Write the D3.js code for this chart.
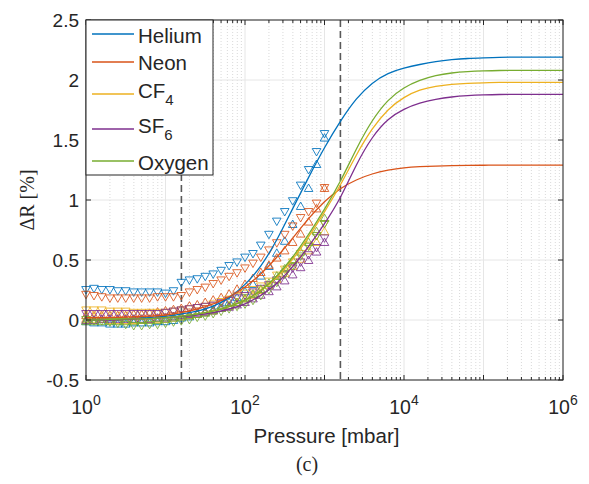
<!DOCTYPE html>
<html>
<head>
<meta charset="utf-8">
<script src="https://cdn.jsdelivr.net/npm/d3@7"></script>
<style>
  body { margin: 0; background: #fff; }
  svg text { font-family: "Liberation Sans", Arial, sans-serif; fill: #262626; }
</style>
</head>
<body>
<div id="chart"></div>
<script>
// Gas names and colours (MATLAB default order)
const gases = ["Helium", "Neon", "CF4", "SF6", "Oxygen"];
const gasColors = ["#0072BD", "#D95319", "#EDB120", "#7E2F8E", "#77AC30"];

// Measured pressures (mbar) for the markers
const measPressure = [1, 1.26, 1.58, 2, 2.51, 3.16, 3.98, 5.01, 6.31, 7.94,
  10, 12.6, 15.8, 20, 25.1, 31.6, 39.8, 50.1, 63.1, 79.4,
  100, 126, 158, 200, 251, 316, 398, 501, 631, 794, 1000];

// Down-triangle branch
const heDown = [0.25,0.26,0.25,0.25,0.24,0.24,0.23,0.23,0.23,0.23,0.22,0.24,0.31,0.33,0.34,0.36,0.38,0.41,0.45,0.48,0.52,0.55,0.62,0.71,0.82,0.9,0.99,1.12,1.25,1.4,1.55];
const neDown = [0.21,0.2,0.19,0.18,0.18,0.18,0.18,0.18,0.18,0.19,0.19,0.19,0.2,0.23,0.25,0.27,0.3,0.33,0.36,0.39,0.43,0.47,0.52,0.58,0.64,0.71,0.78,0.85,0.9,0.97,1.1];
const cfDown = [0.08,0.08,0.08,0.07,0.07,0.07,0.06,0.06,0.06,0.06,0.06,0.07,0.08,0.09,0.1,0.11,0.13,0.15,0.17,0.19,0.22,0.25,0.28,0.32,0.37,0.42,0.48,0.55,0.62,0.7,0.8];
const sfDown = [0.05,0.05,0.05,0.05,0.05,0.05,0.05,0.05,0.05,0.05,0.06,0.07,0.08,0.09,0.1,0.11,0.12,0.14,0.16,0.18,0.2,0.23,0.26,0.29,0.33,0.38,0.43,0.48,0.54,0.6,0.68];
const oxDown = [0,-0.01,-0.01,-0.02,-0.03,-0.04,-0.05,-0.05,-0.04,-0.04,-0.03,-0.02,-0.01,0,0.02,0.03,0.05,0.07,0.09,0.11,0.13,0.16,0.2,0.25,0.31,0.38,0.45,0.53,0.61,0.7,0.8];

// Up-triangle branch
const heUp = [-0.01,-0.02,-0.02,-0.03,-0.03,-0.03,-0.02,-0.02,-0.02,-0.01,-0.01,0,0.02,0.03,0.05,0.07,0.09,0.12,0.15,0.19,0.24,0.3,0.37,0.45,0.56,0.66,0.8,0.95,1.1,1.3,1.52];
const neUp = [0.04,0.04,0.04,0.04,0.04,0.04,0.05,0.05,0.06,0.07,0.08,0.09,0.1,0.12,0.13,0.15,0.17,0.19,0.22,0.26,0.3,0.35,0.4,0.46,0.52,0.58,0.65,0.72,0.82,0.93,1.1];
const cfUp = [0.01,0.01,0.01,0,0,0,0,0,0.01,0.01,0.01,0.02,0.03,0.04,0.05,0.07,0.08,0.1,0.12,0.15,0.18,0.21,0.25,0.29,0.34,0.39,0.45,0.51,0.58,0.65,0.74];
const sfUp = [0,0,0.01,0.01,0.01,0.01,0.01,0.01,0.01,0.02,0.02,0.03,0.04,0.05,0.06,0.07,0.08,0.1,0.11,0.13,0.15,0.18,0.21,0.24,0.28,0.33,0.38,0.44,0.5,0.57,0.65];
const oxUp = [-0.01,-0.01,-0.01,-0.01,-0.01,-0.01,-0.01,0,0,0,0.01,0.02,0.03,0.04,0.05,0.06,0.08,0.1,0.12,0.15,0.18,0.22,0.26,0.31,0.37,0.43,0.5,0.57,0.65,0.74,0.85];

// Fit curves, read at these pressures
const fitPressure = [1, 1.58, 2.51, 3.98, 6.31, 10, 15.8, 25.1, 39.8, 63.1,
  100, 158, 251, 398, 631, 1000, 1585, 2512, 3981, 6310,
  1e4, 1.58e4, 2.51e4, 3.98e4, 6.31e4, 1e5, 1.58e5, 2.51e5, 3.98e5, 6.31e5, 1e6];
const heFit = [0,0,0.01,0.01,0.02,0.03,0.05,0.07,0.11,0.18,0.29,0.44,0.66,0.93,1.19,1.44,1.66,1.85,1.98,2.06,2.1,2.13,2.155,2.17,2.18,2.185,2.19,2.19,2.19,2.19,2.19];
const neFit = [0.02,0.02,0.02,0.03,0.03,0.04,0.06,0.09,0.13,0.19,0.27,0.38,0.52,0.68,0.85,0.99,1.1,1.17,1.22,1.25,1.27,1.278,1.283,1.286,1.288,1.29,1.29,1.29,1.29,1.29,1.29];
const cfFit = [0,0,0.01,0.01,0.01,0.02,0.03,0.05,0.07,0.11,0.16,0.24,0.35,0.5,0.69,0.9,1.12,1.38,1.6,1.76,1.86,1.92,1.95,1.965,1.973,1.977,1.98,1.98,1.98,1.98,1.98];
const sfFit = [0,0,0,0.01,0.01,0.02,0.03,0.04,0.06,0.09,0.13,0.2,0.3,0.44,0.61,0.8,1.01,1.3,1.53,1.68,1.76,1.81,1.84,1.86,1.87,1.876,1.88,1.88,1.88,1.88,1.88];
const oxFit = [0,0,0.01,0.01,0.01,0.02,0.03,0.05,0.07,0.11,0.16,0.24,0.36,0.52,0.71,0.92,1.15,1.43,1.67,1.84,1.94,2,2.04,2.06,2.07,2.076,2.08,2.08,2.08,2.08,2.08];

// Dashed reference pressures
const refPressure = [15.85, 1585];

const yTicks = [-0.5, 0, 0.5, 1, 1.5, 2, 2.5];
const xDecades = [1, 1e1, 1e2, 1e3, 1e4, 1e5, 1e6];
const xLabelDecades = [1, 1e2, 1e4, 1e6];

const downSets = [heDown, neDown, cfDown, sfDown, oxDown];
const upSets = [heUp, neUp, cfUp, sfUp, oxUp];
const fitSets = [heFit, neFit, cfFit, sfFit, oxFit];

// Layout
const W = 589, H = 484;
const plot = { left: 86, right: 563, top: 20, bottom: 380 };

const svg = d3.select("#chart").append("svg")
    .attr("width", W).attr("height", H);

const x = d3.scaleLog().domain([1, 1e6]).range([plot.left, plot.right]);
const y = d3.scaleLinear().domain([-0.5, 2.5]).range([plot.bottom, plot.top]);

// Minor ticks 2..9 in every decade
const minorX = [];
xDecades.slice(0, -1).forEach(d => {
  [2, 3, 4, 5, 6, 7, 8, 9].forEach(m => minorX.push(d * m));
});

// Grid
const grid = svg.append("g");
grid.selectAll(".minor").data(minorX).join("line")
    .attr("x1", d => x(d)).attr("x2", d => x(d))
    .attr("y1", plot.top).attr("y2", plot.bottom)
    .attr("stroke", "#cfcfcf").attr("stroke-width", 0.8)
    .attr("stroke-dasharray", "1,2");
grid.selectAll(".vmajor").data(xDecades).join("line")
    .attr("x1", d => x(d)).attr("x2", d => x(d))
    .attr("y1", plot.top).attr("y2", plot.bottom)
    .attr("stroke", "#e6e6e6").attr("stroke-width", 1);
grid.selectAll(".hmajor").data(yTicks).join("line")
    .attr("x1", plot.left).attr("x2", plot.right)
    .attr("y1", d => y(d)).attr("y2", d => y(d))
    .attr("stroke", "#e6e6e6").attr("stroke-width", 1);

// Dashed reference lines
svg.append("g").selectAll("line").data(refPressure).join("line")
    .attr("x1", d => x(d)).attr("x2", d => x(d))
    .attr("y1", plot.top).attr("y2", plot.bottom)
    .attr("stroke", "#595959").attr("stroke-width", 1.6)
    .attr("stroke-dasharray", "7,4");

// Markers
const tri = d3.symbol().type(d3.symbolTriangle).size(32);
const markers = svg.append("g").attr("fill", "none").attr("stroke-width", 1);
gases.forEach((g, i) => {
  const col = gasColors[i];
  markers.append("g").selectAll("path").data(downSets[i]).join("path")
      .attr("d", tri)
      .attr("transform", (v, j) => `translate(${x(measPressure[j])},${y(v) - 1}) rotate(180)`)
      .attr("stroke", col).attr("stroke-opacity", 0.85);
  markers.append("g").selectAll("path").data(upSets[i]).join("path")
      .attr("d", tri)
      .attr("transform", (v, j) => `translate(${x(measPressure[j])},${y(v) + 1})`)
      .attr("stroke", col).attr("stroke-opacity", 0.85);
});

// Fit curves
const line = d3.line()
    .x((v, j) => x(fitPressure[j]))
    .y(v => y(v))
    .curve(d3.curveBasis);
svg.append("g").selectAll("path").data(fitSets).join("path")
    .attr("d", line)
    .attr("fill", "none")
    .attr("stroke", (d, i) => gasColors[i])
    .attr("stroke-width", 1.3);

// Axes box and ticks (MATLAB style: inside, all four sides)
const axes = svg.append("g").attr("stroke", "#262626").attr("stroke-width", 1);
axes.append("rect")
    .attr("x", plot.left).attr("y", plot.top)
    .attr("width", plot.right - plot.left).attr("height", plot.bottom - plot.top)
    .attr("fill", "none");
yTicks.forEach(t => {
  axes.append("line").attr("x1", plot.left).attr("x2", plot.left + 5).attr("y1", y(t)).attr("y2", y(t));
  axes.append("line").attr("x1", plot.right).attr("x2", plot.right - 5).attr("y1", y(t)).attr("y2", y(t));
});
xDecades.forEach(t => {
  axes.append("line").attr("x1", x(t)).attr("x2", x(t)).attr("y1", plot.bottom).attr("y2", plot.bottom - 5);
  axes.append("line").attr("x1", x(t)).attr("x2", x(t)).attr("y1", plot.top).attr("y2", plot.top + 5);
});
minorX.forEach(t => {
  axes.append("line").attr("x1", x(t)).attr("x2", x(t)).attr("y1", plot.bottom).attr("y2", plot.bottom - 3);
  axes.append("line").attr("x1", x(t)).attr("x2", x(t)).attr("y1", plot.top).attr("y2", plot.top + 3);
});

// Y tick labels
svg.append("g").selectAll("text").data(yTicks).join("text")
    .attr("x", plot.left - 7).attr("y", d => y(d) + 7)
    .attr("text-anchor", "end")
    .style("font-size", "19px")
    .text(d => d);

// X tick labels 10^n
const xl = svg.append("g").selectAll("text").data(xLabelDecades).join("text")
    .attr("x", d => x(d)).attr("y", 414)
    .attr("text-anchor", "middle")
    .style("font-size", "19.5px");
xl.append("tspan").text("10");
xl.append("tspan").attr("dy", -9).style("font-size", "14px")
    .text(d => Math.round(Math.log10(d)));

// Axis labels
svg.append("text")
    .attr("x", (plot.left + plot.right) / 2 + 2).attr("y", 443)
    .attr("text-anchor", "middle")
    .style("font-size", "20.5px")
    .text("Pressure [mbar]");

svg.append("text")
    .attr("transform", `translate(34,${(plot.top + plot.bottom) / 2}) rotate(-90)`)
    .attr("text-anchor", "middle")
    .style("font-family", "'Liberation Serif', 'DejaVu Serif', serif")
    .style("font-size", "20px")
    .text("ΔR [%]");

svg.append("text")
    .attr("x", 307).attr("y", 471)
    .attr("text-anchor", "middle")
    .style("font-family", "'Liberation Serif', 'DejaVu Serif', serif")
    .style("font-size", "20px")
    .text("(c)");

// Legend
const legendLabels = [["Helium", ""], ["Neon", ""], ["CF", "4"], ["SF", "6"], ["Oxygen", ""]];
const legendLineY = [34, 62, 94, 129, 161];
const legendTextY = [43, 70, 98, 133, 170];
const legend = svg.append("g");
legend.append("rect")
    .attr("x", plot.left).attr("y", plot.top)
    .attr("width", 127).attr("height", 155)
    .attr("fill", "#fff").attr("stroke", "#262626").attr("stroke-width", 1);
legendLabels.forEach((lab, i) => {
  legend.append("line")
      .attr("x1", 92).attr("x2", 134)
      .attr("y1", legendLineY[i]).attr("y2", legendLineY[i])
      .attr("stroke", gasColors[i]).attr("stroke-width", 1.3);
  const t = legend.append("text")
      .attr("x", 138).attr("y", legendTextY[i])
      .style("font-size", "20.5px");
  t.append("tspan").text(lab[0]);
  if (lab[1]) t.append("tspan").attr("dy", 7).style("font-size", "15px").text(lab[1]);
});
</script>
</body>
</html>
